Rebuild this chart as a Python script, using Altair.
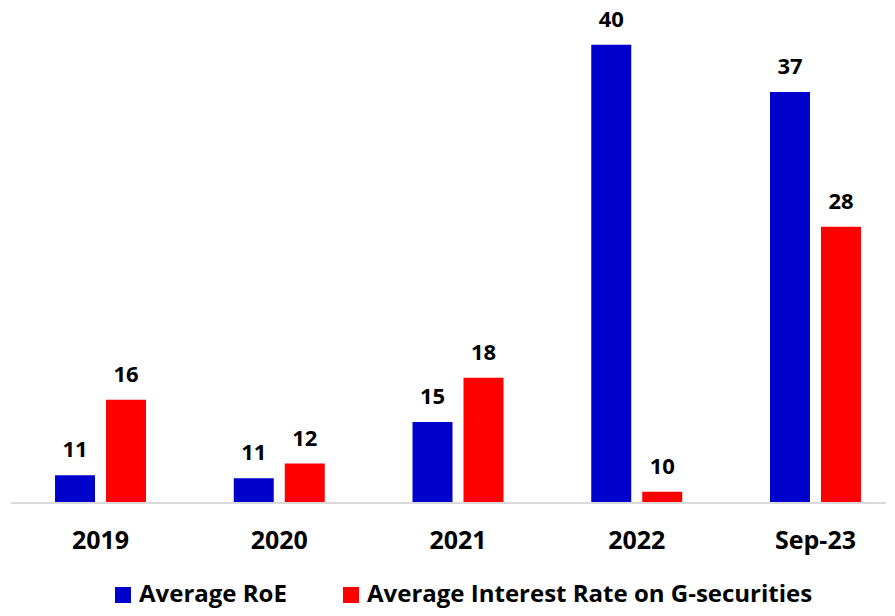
import altair as alt
import pandas as pd

years = ["2019", "2020", "2021", "2022", "Sep-23"]
series = ["Average RoE", "Average Interest Rate on G-securities"]
roe = [11.1, 10.9, 14.7, 40.2, 37.0]
gsec = [16.2, 11.9, 17.7, 10.0, 27.9]
colors = ["#0000CC", "#FF0000"]

rows = []
for y, a, b in zip(years, roe, gsec):
    rows.append({"year": y, "series": series[0], "value": a})
    rows.append({"year": y, "series": series[1], "value": b})
df = pd.DataFrame(rows)

FONT = "Open Sans"
ymin, ymax = 9.3, 42.0
W, H = 856, 484
PAD_L = 22

base = alt.Chart(df).encode(
    x=alt.X(
        "year:N",
        sort=years,
        scale=alt.Scale(paddingInner=0.491, paddingOuter=0.14),
        axis=alt.Axis(
            title=None,
            labelAngle=0,
            labelFont=FONT,
            labelFontSize=25,
            labelFontWeight="bold",
            labelColor="#000000",
            labelPadding=26,
            ticks=False,
            domain=False,
            grid=False,
        ),
    ),
    xOffset=alt.XOffset(
        "series:N", sort=series, scale=alt.Scale(paddingInner=0.216, paddingOuter=0)
    ),
)

bars = base.mark_bar().encode(
    y=alt.Y(
        "value:Q",
        scale=alt.Scale(domain=[ymin, ymax], zero=False, nice=False),
        axis=None,
    ),
    y2=alt.datum(ymin),
    color=alt.Color(
        "series:N",
        sort=series,
        scale=alt.Scale(domain=series, range=colors),
        legend=alt.Legend(
            title=None,
            orient="none",
            legendX=81,
            legendY=565,
            direction="horizontal",
            symbolType="square",
            symbolSize=256,
            symbolStrokeWidth=0,
            symbolOpacity=1,
            labelFont=FONT,
            labelFontSize=24,
            labelFontWeight="bold",
            labelColor="#000000",
            labelOffset=4,
            labelLimit=0,
            columnPadding=52,
        ),
    ),
)

labels = base.mark_text(
    dy=-18, baseline="alphabetic", font=FONT, fontSize=22, fontWeight="bold", color="#000000"
).encode(
    y=alt.Y("value:Q", scale=alt.Scale(domain=[ymin, ymax], zero=False, nice=False), axis=None),
    text=alt.Text("value:Q", format=".0f"),
)

axis_line = alt.Chart(df).mark_rule(color="#d9d9d9", strokeWidth=2).encode(
    x=alt.value(11 - 8 - PAD_L), x2=alt.value(W), y=alt.value(H + 1)
)

chart = (
    alt.layer(axis_line, bars, labels)
    .properties(
        width=W,
        height=H,
        padding={"left": PAD_L, "top": 10, "right": 0, "bottom": 106},
        autosize=alt.AutoSizeParams(type="none"),
    )
    .configure_view(stroke=None)
)

chart.save("out.html", embed_options={"renderer": "svg", "actions": False})
